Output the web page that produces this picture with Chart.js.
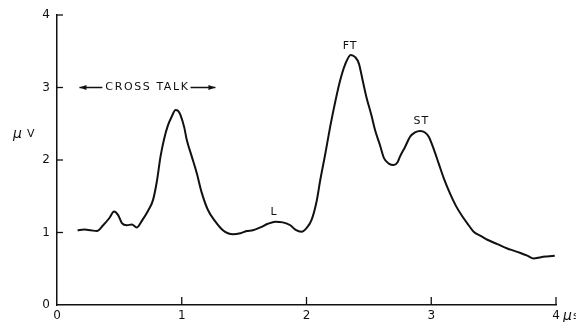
<!DOCTYPE html>
<html>
<head>
<meta charset="utf-8">
<script src="https://cdn.jsdelivr.net/npm/chart.js@4/dist/chart.umd.min.js"></script>
<style>
  html, body { margin: 0; padding: 0; background: #fff; }
  #wrap { width: 576px; height: 322px; position: relative; }
</style>
</head>
<body>
<div id="wrap"><canvas id="mycanvas"></canvas></div>
<script>
// signal trace (time in microseconds, amplitude in microvolts)
const timeUs = [0.165, 0.22, 0.27, 0.32, 0.37, 0.42, 0.457, 0.49, 0.52, 0.56, 0.60, 0.64, 0.68, 0.73, 0.77, 0.80, 0.83, 0.86, 0.89, 0.92, 0.95, 0.97, 0.99, 1.02, 1.04, 1.08, 1.12, 1.16, 1.21, 1.27, 1.33, 1.37, 1.41, 1.47, 1.52, 1.57, 1.63, 1.69, 1.75, 1.81, 1.87, 1.91, 1.96, 2.00, 2.04, 2.08, 2.11, 2.15, 2.19, 2.23, 2.27, 2.31, 2.355, 2.39, 2.42, 2.45, 2.48, 2.52, 2.55, 2.59, 2.62, 2.66, 2.70, 2.73, 2.75, 2.79, 2.83, 2.87, 2.91, 2.95, 2.98, 3.02, 3.06, 3.10, 3.15, 3.20, 3.25, 3.30, 3.34, 3.40, 3.45, 3.53, 3.61, 3.66, 3.71, 3.77, 3.82, 3.88, 3.93, 3.99];
const microvolts = [1.03, 1.04, 1.03, 1.02, 1.10, 1.20, 1.29, 1.24, 1.13, 1.10, 1.11, 1.07, 1.16, 1.30, 1.45, 1.70, 2.05, 2.30, 2.48, 2.60, 2.69, 2.68, 2.62, 2.45, 2.28, 2.05, 1.82, 1.55, 1.31, 1.15, 1.03, 0.99, 0.975, 0.99, 1.02, 1.03, 1.07, 1.12, 1.15, 1.14, 1.10, 1.04, 1.01, 1.06, 1.17, 1.42, 1.72, 2.08, 2.46, 2.80, 3.10, 3.32, 3.45, 3.42, 3.33, 3.10, 2.87, 2.62, 2.41, 2.20, 2.03, 1.95, 1.93, 1.97, 2.05, 2.18, 2.32, 2.38, 2.40, 2.38, 2.32, 2.15, 1.95, 1.75, 1.54, 1.36, 1.22, 1.10, 1.01, 0.95, 0.90, 0.84, 0.78, 0.75, 0.72, 0.68, 0.64, 0.66, 0.67, 0.68];
const xTicks = [0, 1, 2, 3, 4];
const yTicks = [0, 1, 2, 3, 4];
// peak labels placed in data units
const peakNames = ['L', 'FT', 'ST'];
const peakX = [1.74, 2.35, 2.92];
const peakY = [1.28, 3.57, 2.53];

const pts = timeUs.map((t, i) => ({ x: t, y: microvolts[i] }));
const ink = '#111';
const fontFam = '"DejaVu Sans", "Liberation Sans", sans-serif';

// ticks point inward on this plot, and the text notes go on top
const extras = {
  id: 'extras',
  afterDraw(chart) {
    const c = chart.ctx;
    const xs = chart.scales.x, ys = chart.scales.y;
    const a = chart.chartArea;
    c.save();
    c.strokeStyle = ink;
    c.lineWidth = 1.3;
    xTicks.forEach(v => {
      const px = xs.getPixelForValue(v);
      if (v == 0) return;
      c.beginPath(); c.moveTo(px, a.bottom); c.lineTo(px, a.bottom - 8); c.stroke();
    });
    yTicks.forEach(v => {
      const py = ys.getPixelForValue(v);
      if (v == 0) return;
      c.beginPath(); c.moveTo(a.left, py); c.lineTo(a.left + 6, py); c.stroke();
    });

    c.fillStyle = ink;
    c.font = '11px ' + fontFam;
    c.textBaseline = 'middle';

    // cross talk note with arrows
    const yy = ys.getPixelForValue(3);
    const x1 = xs.getPixelForValue(0.18), x2 = xs.getPixelForValue(1.27);
    c.textAlign = 'center';
    c.letterSpacing = '1.6px';
    const label = 'CROSS TALK';
    const mid = (x1 + x2) / 2 - 1;
    c.fillText(label, mid + 1, yy);
    const w = c.measureText(label).width;
    c.letterSpacing = '0px';
    c.lineWidth = 1.3;
    c.beginPath();
    c.moveTo(x1, yy); c.lineTo(mid - w / 2 - 2, yy);
    c.moveTo(mid + w / 2 + 2, yy); c.lineTo(x2, yy);
    c.stroke();
    c.beginPath();
    c.moveTo(x1, yy); c.lineTo(x1 + 7, yy - 2.5); c.lineTo(x1 + 7, yy + 2.5); c.closePath();
    c.moveTo(x2, yy); c.lineTo(x2 - 7, yy - 2.5); c.lineTo(x2 - 7, yy + 2.5); c.closePath();
    c.fill();

    c.letterSpacing = '1px';
    peakNames.forEach((n, i) => {
      c.fillText(n, xs.getPixelForValue(peakX[i]), ys.getPixelForValue(peakY[i]));
    });
    c.letterSpacing = '0px';

    // axis units
    c.textAlign = 'left';
    c.font = 'italic 14px ' + fontFam;
    c.fillText('\u03bc', 13, ys.getPixelForValue(2.35));
    c.font = '11px ' + fontFam;
    c.fillText('V', 27, ys.getPixelForValue(2.35));
    c.font = 'italic 14px ' + fontFam;
    c.fillText('\u03bc', 563, 316);
    c.font = '11px ' + fontFam;
    c.fillText('s', 573, 316);
    c.restore();
  }
};

new Chart(document.getElementById('mycanvas'), {
  type: 'line',
  data: {
    datasets: [{
      data: pts,
      borderColor: ink,
      borderWidth: 2,
      pointRadius: 0,
      cubicInterpolationMode: 'monotone',
      fill: false
    }]
  },
  options: {
    responsive: true,
    maintainAspectRatio: false,
    animation: false,
    layout: { padding: { top: 15, right: 20, left: 0, bottom: 0 } },
    plugins: { legend: { display: false }, tooltip: { enabled: false } },
    scales: {
      x: {
        type: 'linear', min: 0, max: 4,
        afterBuildTicks: s => { s.ticks = xTicks.map(v => ({ value: v })); },
        afterFit: s => { s.height = 17; },
        ticks: { color: ink, padding: 4, font: { family: fontFam, size: 12 } },
        grid: { display: false, drawTicks: false },
        border: { display: true, color: ink, width: 1.5 }
      },
      y: {
        min: 0, max: 4,
        afterBuildTicks: s => { s.ticks = yTicks.map(v => ({ value: v })); },
        afterFit: s => { s.width = 57; },
        ticks: { color: ink, padding: 7, font: { family: fontFam, size: 12 } },
        grid: { display: false, drawTicks: false },
        border: { display: true, color: ink, width: 1.5 }
      }
    }
  },
  plugins: [extras]
});
</script>
</body>
</html>
